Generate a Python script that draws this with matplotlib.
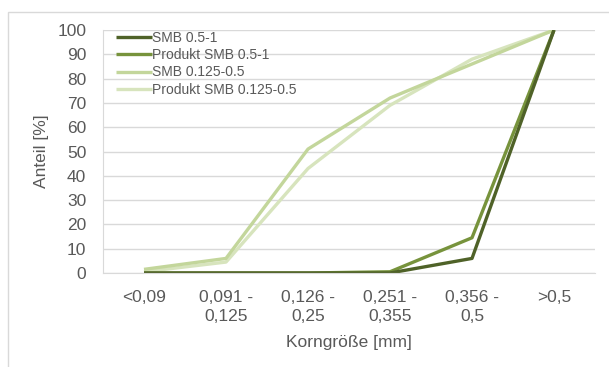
import matplotlib.pyplot as plt
from matplotlib.patches import Rectangle

plt.rcParams["font.family"] = ["Liberation Sans", "DejaVu Sans"]

categories = ["<0,09", "0,091 -\n0,125", "0,126 -\n0,25", "0,251 -\n0,355", "0,356 -\n0,5", ">0,5"]
smb_05_1 = [0, 0, 0, 0, 6, 100]
produkt_05_1 = [0, 0, 0, 0.5, 14.5, 100]
smb_0125_05 = [1.5, 6, 51, 72, 86, 100]
produkt_0125_05 = [0.5, 4.5, 43, 69, 88, 100]

series = [
    ("SMB 0.5-1", smb_05_1, "#4f6228"),
    ("Produkt SMB 0.5-1", produkt_05_1, "#77933c"),
    ("SMB 0.125-0.5", smb_0125_05, "#c3d69b"),
    ("Produkt SMB 0.125-0.5", produkt_0125_05, "#d7e4bd"),
]

TEXT = "#595959"
GRID = "#d9d9d9"

fig = plt.figure(figsize=(6.09, 3.67), dpi=100)
ax = fig.add_axes([103 / 609, 1 - 273 / 367, 492 / 609, 243 / 367])

x = range(len(categories))
# draw lighter series first so the darker ones sit on top
for label, values, color in reversed(series):
    ax.plot(x, values, color=color, lw=2.4, label=label, solid_capstyle="butt")

ax.set_xlim(-0.5, len(categories) - 0.5)
ax.set_ylim(0, 100)
ax.set_yticks(range(0, 101, 10))
ax.set_xticks(list(x))
ax.set_xticklabels(categories, linespacing=1.35)
ax.tick_params(length=0, labelsize=12.5, colors=TEXT, pad=12)
ax.tick_params(axis="y", pad=12)
ax.grid(axis="y", color=GRID, lw=1)
ax.set_axisbelow(True)
for side in ["top", "right"]:
    ax.spines[side].set_visible(False)
for side in ["left", "bottom"]:
    ax.spines[side].set_color(GRID)

ax.set_ylabel("Anteil [%]", fontsize=12.5, color=TEXT, labelpad=6)
ax.set_xlabel("Korngröße [mm]", fontsize=12.5, color=TEXT, labelpad=8)

handles, labels = ax.get_legend_handles_labels()
ax.legend(handles[::-1], labels[::-1], loc="upper left",
          bbox_to_anchor=(7 / 492, 1 + 5 / 243),
          frameon=False, fontsize=10, labelcolor=TEXT, handlelength=2.6,
          handletextpad=0.0, labelspacing=0.25, borderaxespad=0.0,
          borderpad=0.4)

# outer chart border
fig.patches.append(Rectangle((8 / 609, -0.1), 1.2, 1 - 12 / 367 + 0.1,
                             transform=fig.transFigure, fill=False,
                             edgecolor=GRID, lw=1))

fig.savefig("out.png", dpi=100)
